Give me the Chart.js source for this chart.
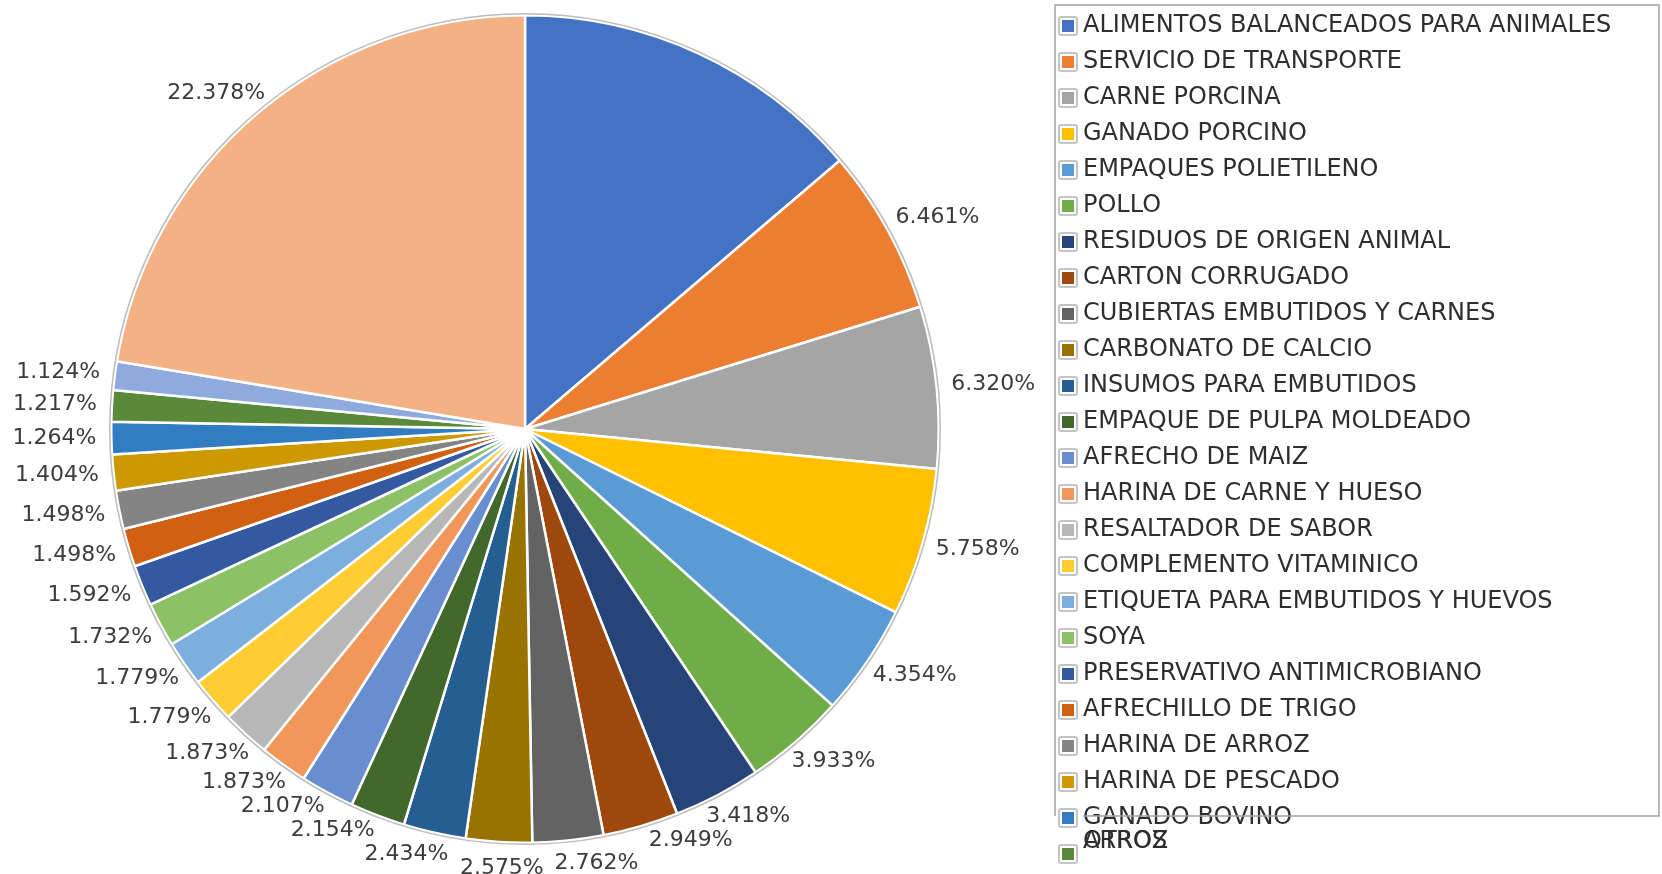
<!DOCTYPE html>
<html>
<head>
<meta charset="utf-8">
<title>Participacion por producto</title>
<script src="https://cdn.jsdelivr.net/npm/chart.js@4.4.1/dist/chart.umd.min.js"></script>
<style>
  html, body { margin: 0; padding: 0; background: #fff; }
  #wrap { width: 1662px; height: 874px; }
</style>
</head>
<body>
<div id="wrap"><canvas id="pieChart" width="1662" height="874"></canvas></div>
<script>
// products, in slice order (clockwise from 12 o'clock)
const categories = [
  "ALIMENTOS BALANCEADOS PARA ANIMALES", "SERVICIO DE TRANSPORTE", "CARNE PORCINA",
  "GANADO PORCINO", "EMPAQUES POLIETILENO", "POLLO", "RESIDUOS DE ORIGEN ANIMAL",
  "CARTON CORRUGADO", "CUBIERTAS EMBUTIDOS Y CARNES", "CARBONATO DE CALCIO",
  "INSUMOS PARA EMBUTIDOS", "EMPAQUE DE PULPA MOLDEADO", "AFRECHO DE MAIZ",
  "HARINA DE CARNE Y HUESO", "RESALTADOR DE SABOR", "COMPLEMENTO VITAMINICO",
  "ETIQUETA PARA EMBUTIDOS Y HUEVOS", "SOYA", "PRESERVATIVO ANTIMICROBIANO",
  "AFRECHILLO DE TRIGO", "HARINA DE ARROZ", "HARINA DE PESCADO", "GANADO BOVINO",
  "ARROZ", "", "OTROS"
];
// share of each product, percent
const shares = [
  13.764, 6.461, 6.320, 5.758, 4.354, 3.933, 3.418, 2.949, 2.762, 2.575,
  2.434, 2.154, 2.107, 1.873, 1.873, 1.779, 1.779, 1.732, 1.592, 1.498,
  1.498, 1.404, 1.264, 1.217, 1.124, 22.378
];
// office palette
const sliceColors = [
  "#4472C4", "#ED7D31", "#A5A5A5", "#FFC000", "#5B9BD5", "#70AD47",
  "#264478", "#9E480E", "#636363", "#997300", "#255E91", "#43682B",
  "#698ED0", "#F1975A", "#B7B7B7", "#FFCD33", "#7CAFDD", "#8CC168",
  "#335AA1", "#D26012", "#848484", "#CC9A00", "#327DC2", "#5A8A39",
  "#8FAADC", "#F4B183"
];
// the first slice has no data label in the original
const hiddenLabels = [0];

const LABEL_FONT = "22px 'DejaVu Sans'";
const LEGEND_FONT = "24px 'DejaVu Sans'";
const LEGEND = { left: 1055, top: 5, right: 1659, bottom: 816, firstRow: 26, rowH: 36, rows: 23 };

// thin grey ring round the pie
const pieOutline = {
  id: "pieOutline",
  afterDatasetsDraw(chart) {
    const arc = chart.getDatasetMeta(0).data[0];
    if (!arc) return;
    const ctx = chart.ctx;
    ctx.save();
    ctx.strokeStyle = "#bdbdbd";
    ctx.lineWidth = 1.5;
    ctx.beginPath();
    ctx.arc(arc.x, arc.y, arc.outerRadius + 1.5, 0, Math.PI * 2);
    ctx.stroke();
    ctx.restore();
  }
};

// percent labels outside the slices, nudged apart when they collide
const pieLabels = {
  id: "pieLabels",
  afterDatasetsDraw(chart) {
    const ctx = chart.ctx;
    const arcs = chart.getDatasetMeta(0).data;
    ctx.save();
    ctx.font = LABEL_FONT;
    const items = [];
    arcs.forEach((arc, i) => {
      if (hiddenLabels.includes(i)) return;
      const p = arc.getProps(["x", "y", "startAngle", "endAngle", "outerRadius"], true);
      const text = shares[i].toFixed(3) + "%";
      items.push({
        text, w: ctx.measureText(text).width,
        a: (p.startAngle + p.endAngle) / 2, cx: p.x, cy: p.y, r: p.outerRadius
      });
    });
    const place = (it) => {
      const dx = Math.cos(it.a), dy = Math.sin(it.a);
      it.x = it.cx + dx * (it.r + 15) + dx * it.w / 2;
      it.y = it.cy + dy * (it.r + 15) + dy * 11;
    };
    const overlaps = (a, b) =>
      Math.abs(a.x - b.x) < (a.w + b.w) / 2 + 10 && Math.abs(a.y - b.y) < 24;
    for (let k = 0; k < 3000; k++) {
      items.forEach(place);
      let moved = false;
      for (let j = 0; j < items.length - 1; j++) {
        if (overlaps(items[j], items[j + 1])) {
          items[j].a -= 0.002;
          items[j + 1].a += 0.002;
          moved = true;
        }
      }
      if (!moved) break;
    }
    items.forEach(place);
    ctx.fillStyle = "#3c3c3c";
    ctx.textAlign = "center";
    ctx.textBaseline = "middle";
    items.forEach(it => ctx.fillText(it.text, it.x, it.y));
    ctx.restore();
  }
};

// boxed legend on the right; entries past the box pile up in its last row
const boxLegend = {
  id: "boxLegend",
  afterDraw(chart) {
    const ctx = chart.ctx;
    const rowY = (k) => LEGEND.firstRow + k * LEGEND.rowH;
    const swatch = (y, color) => {
      ctx.fillStyle = "#fff";
      ctx.strokeStyle = "#c4c4c4";
      ctx.lineWidth = 2;
      ctx.beginPath();
      ctx.roundRect(LEGEND.left + 4, y - 9, 18, 18, 2);
      ctx.fill();
      ctx.stroke();
      ctx.fillStyle = color;
      ctx.fillRect(LEGEND.left + 7, y - 6, 12, 12);
    };
    ctx.save();
    ctx.font = LEGEND_FONT;
    ctx.textBaseline = "middle";
    categories.forEach((name, i) => {
      let ty;
      if (i < LEGEND.rows) {
        swatch(rowY(i), sliceColors[i]);
        ty = rowY(i);
      } else {
        if (i === LEGEND.rows) swatch(rowY(i), sliceColors[i]);
        ty = rowY(LEGEND.rows - 1) + 24;
      }
      ctx.fillStyle = "#2e2e2e";
      ctx.fillText(name, LEGEND.left + 28, ty);
    });
    ctx.strokeStyle = "#a3a3a3";
    ctx.lineWidth = 1.5;
    ctx.beginPath();
    ctx.moveTo(LEGEND.left, LEGEND.bottom);
    ctx.lineTo(LEGEND.left, LEGEND.top);
    ctx.lineTo(LEGEND.right, LEGEND.top);
    ctx.lineTo(LEGEND.right, LEGEND.bottom);
    ctx.lineTo(LEGEND.left + 28, LEGEND.bottom);
    ctx.stroke();
    ctx.restore();
  }
};

document.addEventListener("DOMContentLoaded", () => {
  const ctx = document.getElementById("pieChart").getContext("2d");
  new Chart(ctx, {
    type: "pie",
    data: {
      labels: categories,
      datasets: [
        {
          data: shares,
          backgroundColor: sliceColors,
          borderColor: "#ffffff",
          borderWidth: 2.5,
          hoverOffset: 0,
        },
      ],
    },
    options: {
      responsive: false,
      animation: false,
      events: [],
      layout: { padding: { left: 110, top: 14, right: 722, bottom: 30 } },
      plugins: {
        legend: { display: false },
        tooltip: { enabled: false },
      },
    },
    plugins: [pieOutline, pieLabels, boxLegend],
  });
});
</script>
</body>
</html>
